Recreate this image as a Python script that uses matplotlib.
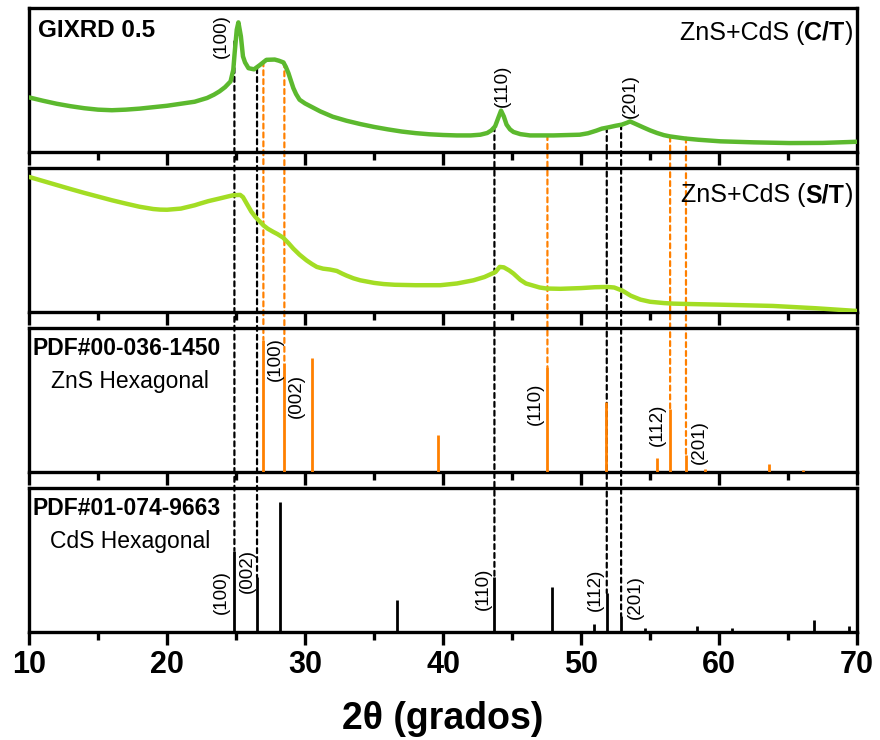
import matplotlib
matplotlib.use("Agg")
import matplotlib.pyplot as plt
from matplotlib.patches import ConnectionPatch
from matplotlib.offsetbox import TextArea, HPacker, AnchoredOffsetbox

plt.rcParams["font.family"] = ["Liberation Sans", "DejaVu Sans"]

NARROW = ["Liberation Sans Narrow", "Liberation Sans", "DejaVu Sans"]

# GIXRD 0.5, ZnS+CdS with treatment (C/T): 2theta vs normalised intensity
ct_2theta = [10.0, 11.0, 12.0, 13.0, 14.0, 15.0, 16.0, 17.0, 18.0, 19.0, 20.0, 21.0, 22.0,
             22.9, 23.4, 23.8, 24.2, 24.6, 24.8, 24.9, 25.05, 25.17, 25.35, 25.5, 25.65,
             25.9, 26.3, 26.7, 27.2, 27.8, 28.1, 28.43, 28.6, 28.79, 28.95, 29.15, 29.35,
             29.6, 30.0, 30.4, 31.1, 32.0, 33.0, 34.0, 35.0, 36.0, 37.0, 38.0, 39.0, 40.0,
             41.0, 42.0, 42.7, 43.2, 43.5, 43.77, 44.0, 44.2, 44.4, 44.6, 44.85, 45.1, 45.6,
             46.3, 48.0, 49.9, 50.5, 51.1, 51.5, 51.98, 52.5, 52.95, 53.3, 53.55, 53.9, 54.5,
             55.0, 55.5, 56.0, 56.45, 57.5, 58.5, 60.1, 62.5, 65.1, 67.5, 70.0]
ct_int = [0.377, 0.354, 0.333, 0.316, 0.302, 0.292, 0.288, 0.292, 0.299, 0.309, 0.319, 0.333,
          0.347, 0.373, 0.396, 0.419, 0.448, 0.488, 0.569, 0.688, 0.847, 0.898, 0.801, 0.662,
          0.620, 0.580, 0.572, 0.600, 0.638, 0.640, 0.632, 0.620, 0.590, 0.547, 0.500, 0.442,
          0.400, 0.361, 0.335, 0.315, 0.280, 0.243, 0.215, 0.192, 0.172, 0.155, 0.140, 0.129,
          0.121, 0.116, 0.113, 0.113, 0.118, 0.130, 0.148, 0.176, 0.235, 0.285, 0.245, 0.188,
          0.155, 0.137, 0.122, 0.113, 0.113, 0.118, 0.128, 0.146, 0.160, 0.169, 0.180, 0.188,
          0.200, 0.210, 0.195, 0.169, 0.148, 0.130, 0.115, 0.106, 0.092, 0.083, 0.072, 0.065,
          0.060, 0.061, 0.069]

# ZnS+CdS without treatment (S/T)
st_2theta = [10.0, 11.0, 12.0, 13.0, 14.0, 15.1, 16.0, 17.0, 18.0, 19.0, 19.5, 20.0, 21.0,
             22.0, 22.4, 23.0, 23.8, 24.4, 24.8, 25.3, 25.5, 25.77, 26.1, 26.4, 26.98, 27.3,
             27.7, 28.0, 28.4, 28.8, 29.15, 29.6, 30.1, 30.5, 30.85, 31.3, 31.8, 32.3, 32.7,
             33.0, 33.5, 34.0, 35.0, 35.7, 36.5, 38.0, 39.8, 41.0, 42.2, 43.0, 43.8, 44.1,
             44.4, 44.8, 45.1, 45.6, 46.0, 46.5, 47.0, 47.5, 48.5, 50.0, 51.0, 51.9, 52.4,
             53.0, 53.6, 54.3, 55.0, 56.0, 56.7, 58.0, 60.0, 63.9, 67.0, 70.0]
st_int = [0.940, 0.912, 0.884, 0.856, 0.829, 0.801, 0.778, 0.755, 0.733, 0.717, 0.713, 0.712,
          0.720, 0.743, 0.755, 0.772, 0.790, 0.804, 0.813, 0.815, 0.800, 0.755, 0.700, 0.662,
          0.604, 0.580, 0.558, 0.543, 0.519, 0.480, 0.442, 0.400, 0.361, 0.335, 0.315, 0.303,
          0.297, 0.287, 0.268, 0.255, 0.236, 0.222, 0.204, 0.196, 0.191, 0.188, 0.188, 0.200,
          0.222, 0.245, 0.280, 0.315, 0.312, 0.290, 0.269, 0.225, 0.200, 0.186, 0.172, 0.165,
          0.163, 0.168, 0.174, 0.176, 0.172, 0.150, 0.115, 0.088, 0.073, 0.064, 0.060, 0.057,
          0.053, 0.044, 0.028, 0.009]

# PDF#00-036-1450 ZnS hexagonal
zns_pos = [26.98, 28.5, 30.5, 39.6, 47.56, 51.8, 55.5, 56.45, 57.6, 59.0, 63.6, 66.06]
zns_int = [0.92, 0.76, 0.79, 0.26, 0.73, 0.49, 0.10, 0.44, 0.12, 0.02, 0.055, 0.015]
zns_hkl = {0: "(100)", 1: "(002)", 4: "(110)", 7: "(112)", 8: "(201)"}

# PDF#01-074-9663 CdS hexagonal
cds_pos = [24.88, 26.52, 28.19, 36.64, 43.72, 47.87, 50.97, 51.86, 52.9, 54.64, 58.38,
           60.9, 66.88, 69.44]
cds_int = [0.565, 0.38, 0.905, 0.22, 0.38, 0.31, 0.055, 0.27, 0.11, 0.025, 0.04, 0.025,
           0.083, 0.04]
cds_hkl = {0: "(100)", 1: "(002)", 4: "(110)", 7: "(112)", 8: "(201)"}

# guide lines: reference index and where they start in the top panel
cds_guides = [(0, 0.766), (1, 0.58), (4, 0.176), (7, 0.17), (8, 0.19)]
zns_guides = [(0, 0.627), (1, 0.62), (4, 0.115), (7, 0.104), (8, 0.097)]

# (label, x, y) positions of the hkl labels
ct_labels = [("(100)", 23.96, 0.80), ("(110)", 44.3, 0.46), ("(201)", 53.55, 0.384)]
zns_label_xy = {0: (27.83, 0.785), 1: (29.4, 0.528), 4: (46.67, 0.472), 7: (55.5, 0.326),
                8: (58.57, 0.21)}
cds_label_xy = {0: (23.96, 0.28), 1: (25.8, 0.424), 4: (42.9, 0.303), 7: (51.0, 0.292),
                8: (53.9, 0.245)}

CT_COLOR = "#5cb92e"
ST_COLOR = "#a3dd24"
ZNS_COLOR = "#ff8000"
CDS_COLOR = "black"
DASH = (0, (2.2, 1.8))
HKL_SIZE = 13.5


def style_axis(ax, last=False):
    ax.set_xlim(10, 70)
    ax.set_ylim(0, 1)
    ax.set_yticks([])
    ax.set_xticks(range(10, 71, 10))
    ax.set_xticks(range(15, 70, 10), minor=True)
    ax.patch.set_facecolor("none")
    for sp in ax.spines.values():
        sp.set_linewidth(2.4)
    ax.tick_params(axis="x", which="major", direction="out", length=9, width=2.4,
                   labelbottom=last)
    ax.tick_params(axis="x", which="minor", direction="out", length=6, width=2.4)


def mixed_label(ax, parts, x, y, size=18):
    boxes = [TextArea(t, textprops=dict(fontsize=size, fontweight=w)) for t, w in parts]
    pack = HPacker(children=boxes, align="baseline", pad=0, sep=0)
    box = AnchoredOffsetbox(loc="upper right", child=pack, pad=0, borderpad=0,
                            frameon=False, bbox_to_anchor=(x, y),
                            bbox_transform=ax.transAxes)
    ax.add_artist(box)


fig = plt.figure(figsize=(8.8, 7.4), dpi=100)
left, width, height = 0.033, 0.941, 0.1946
bottoms = [0.795, 0.578, 0.362, 0.146]
ax1, ax2, ax3, ax4 = [fig.add_axes([left, b, width, height]) for b in bottoms]

# panel 1
ax1.plot(ct_2theta, ct_int, color=CT_COLOR, lw=3.2, solid_capstyle="round",
         solid_joinstyle="round", zorder=3)
ax1.text(0.011, 0.84, "GIXRD 0.5", transform=ax1.transAxes, fontsize=17.5,
         fontweight="bold", ha="left", va="center")
mixed_label(ax1, [("ZnS+CdS (", "normal"), ("C/T", "bold"), (")", "normal")], 0.995, 0.91)
for lab, x, y in ct_labels:
    ax1.text(x, y, lab, rotation=90, fontsize=HKL_SIZE, ha="center", va="center")

# panel 2
ax2.plot(st_2theta, st_int, color=ST_COLOR, lw=3.2, solid_capstyle="round",
         solid_joinstyle="round", zorder=3)
mixed_label(ax2, [("ZnS+CdS (", "normal"), ("S/T", "bold"), (")", "normal")], 0.995, 0.895)

# panel 3
ax3.vlines(zns_pos, 0, zns_int, color=ZNS_COLOR, lw=2, zorder=3)
ax3.text(0.118, 0.86, "PDF#00-036-1450", transform=ax3.transAxes, fontsize=16.5,
         fontweight="bold", ha="center", va="center")
ax3.text(0.122, 0.627, "ZnS Hexagonal", transform=ax3.transAxes, fontsize=16.5,
         ha="center", va="center")
for i, lab in zns_hkl.items():
    x, y = zns_label_xy[i]
    ax3.text(x, y, lab, rotation=90, fontsize=HKL_SIZE, ha="center", va="center")

# panel 4
ax4.vlines(cds_pos, 0, cds_int, color=CDS_COLOR, lw=2, zorder=3)
ax4.text(0.118, 0.86, "PDF#01-074-9663", transform=ax4.transAxes, fontsize=16.5,
         fontweight="bold", ha="center", va="center")
ax4.text(0.122, 0.627, "CdS Hexagonal", transform=ax4.transAxes, fontsize=16.5,
         ha="center", va="center")
for i, lab in cds_hkl.items():
    x, y = cds_label_xy[i]
    ax4.text(x, y, lab, rotation=90, fontsize=HKL_SIZE, ha="center", va="center")

for ax in (ax1, ax2, ax3):
    style_axis(ax)
style_axis(ax4, last=True)

for lab in ax4.get_xticklabels():
    lab.set_fontfamily(NARROW)
    lab.set_fontweight("bold")
    lab.set_fontsize(22)
ax4.tick_params(axis="x", which="major", pad=4)
ax4.set_xlabel("2θ (grados)", fontsize=27, fontweight="bold", family=NARROW, labelpad=15)

# dashed guide lines running across the panels
for i, y0 in cds_guides:
    x = cds_pos[i]
    con = ConnectionPatch(xyA=(x, y0), coordsA=ax1.transData, xyB=(x, cds_int[i]),
                          coordsB=ax4.transData, color=CDS_COLOR, lw=1.6, linestyle=DASH,
                          zorder=-1)
    fig.add_artist(con)
for i, y0 in zns_guides:
    x = zns_pos[i]
    con = ConnectionPatch(xyA=(x, y0), coordsA=ax1.transData, xyB=(x, zns_int[i]),
                          coordsB=ax3.transData, color=ZNS_COLOR, lw=1.6, linestyle=DASH,
                          zorder=-1)
    fig.add_artist(con)

fig.savefig("out.png", dpi=100, facecolor="white")
